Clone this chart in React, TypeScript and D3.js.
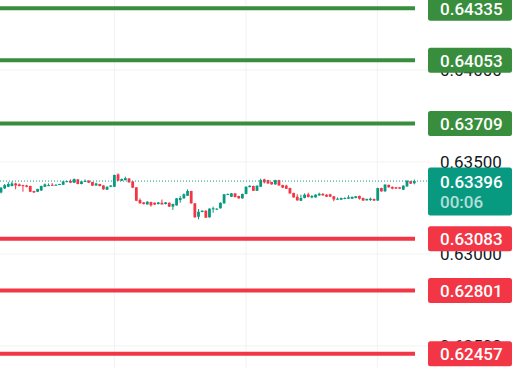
import React from "react";
import * as d3 from "d3";

const W = 515;
const H = 368;

const opens = [
  0.63334, 0.63356, 0.63365, 0.63369, 0.63383, 0.63378, 0.63374, 0.63372, 0.63369, 0.63342,
  0.63338, 0.63345, 0.63365, 0.63371, 0.63376, 0.63372, 0.63376, 0.63376, 0.63391, 0.63396,
  0.63387, 0.63405, 0.6338, 0.63392, 0.63398, 0.63391, 0.63372, 0.6338, 0.63372, 0.63349,
  0.63365, 0.63365, 0.63432, 0.63398, 0.63401, 0.6341, 0.63394, 0.63362, 0.63293, 0.6328,
  0.63269, 0.63282, 0.63278, 0.63271, 0.63278, 0.63271, 0.63278, 0.63257, 0.63264, 0.63293,
  0.63302, 0.63316, 0.63342, 0.63275, 0.63202, 0.63228, 0.63235, 0.63199, 0.63244, 0.63242,
  0.63248, 0.63275, 0.63322, 0.63311, 0.63329, 0.63315, 0.63302, 0.63326, 0.63363, 0.63369,
  0.63343, 0.63365, 0.63405, 0.63401, 0.63391, 0.63378, 0.63401, 0.63374, 0.63371, 0.63358,
  0.63331, 0.63311, 0.63289, 0.63304, 0.63324, 0.63307, 0.63307, 0.63318, 0.63327, 0.63322,
  0.63324, 0.63313, 0.63296, 0.63295, 0.63299, 0.633, 0.633, 0.63304, 0.63315, 0.63304,
  0.63291, 0.63293, 0.63299, 0.6329, 0.63358, 0.6334, 0.63375, 0.63364, 0.63362, 0.63362,
  0.63349, 0.63367, 0.63395, 0.63384,
];
const highs = [
  0.63363, 0.6338, 0.63391, 0.63394, 0.63387, 0.63383, 0.63376, 0.63376, 0.63371, 0.63343,
  0.63354, 0.63371, 0.63383, 0.63383, 0.63385, 0.63378, 0.63381, 0.63396, 0.63398, 0.63405,
  0.6341, 0.63407, 0.63396, 0.63405, 0.63401, 0.63392, 0.63387, 0.63381, 0.63374, 0.63367,
  0.63374, 0.63431, 0.63438, 0.6341, 0.6342, 0.63412, 0.63396, 0.63363, 0.63302, 0.63282,
  0.63286, 0.63284, 0.6328, 0.63282, 0.63296, 0.63282, 0.6328, 0.63273, 0.63304, 0.63315,
  0.63329, 0.63351, 0.63343, 0.63276, 0.63244, 0.63237, 0.63237, 0.63248, 0.63257, 0.63248,
  0.6328, 0.63326, 0.63328, 0.63331, 0.63331, 0.63316, 0.63328, 0.63367, 0.63372, 0.63371,
  0.63372, 0.63409, 0.63409, 0.63403, 0.63392, 0.63403, 0.63403, 0.63376, 0.63376, 0.6336,
  0.63333, 0.63325, 0.63322, 0.63329, 0.63333, 0.6332, 0.63324, 0.63333, 0.63329, 0.63324,
  0.63327, 0.63315, 0.63307, 0.63306, 0.63308, 0.63319, 0.63312, 0.63315, 0.63317, 0.63306,
  0.633, 0.63306, 0.633, 0.6336, 0.6336, 0.63378, 0.63377, 0.63367, 0.63364, 0.63364,
  0.63373, 0.634, 0.63397, 0.63404,
];
const lows = [
  0.63329, 0.63353, 0.63363, 0.63367, 0.63351, 0.63367, 0.63338, 0.63362, 0.63336, 0.63331,
  0.63336, 0.63342, 0.63363, 0.63369, 0.63369, 0.63371, 0.63374, 0.63374, 0.63389, 0.63385,
  0.63385, 0.63378, 0.63378, 0.63391, 0.63385, 0.63369, 0.63371, 0.63367, 0.63349, 0.63347,
  0.63363, 0.63363, 0.63396, 0.63396, 0.634, 0.63387, 0.63358, 0.63287, 0.63273, 0.63269,
  0.63268, 0.63257, 0.63266, 0.63269, 0.63268, 0.63269, 0.63255, 0.63239, 0.63262, 0.63278,
  0.633, 0.63315, 0.63273, 0.63197, 0.63188, 0.63226, 0.63195, 0.63197, 0.63224, 0.6324,
  0.63246, 0.63273, 0.6332, 0.63309, 0.63307, 0.633, 0.633, 0.63324, 0.63362, 0.63342,
  0.63342, 0.63363, 0.63383, 0.63381, 0.63376, 0.63376, 0.63371, 0.63358, 0.63353, 0.63327,
  0.63306, 0.63289, 0.63287, 0.63302, 0.63307, 0.63302, 0.63306, 0.63316, 0.63316, 0.63309,
  0.63309, 0.63286, 0.63295, 0.63293, 0.63297, 0.63299, 0.63299, 0.63302, 0.63295, 0.63288,
  0.6329, 0.63288, 0.63288, 0.63288, 0.63338, 0.63338, 0.6336, 0.63351, 0.63353, 0.63353,
  0.63347, 0.63365, 0.6338, 0.63378,
];
const closes = [
  0.6336, 0.63374, 0.6338, 0.63383, 0.63372, 0.63369, 0.63369, 0.63365, 0.63338, 0.63334,
  0.63353, 0.63369, 0.63378, 0.63374, 0.63371, 0.63376, 0.6338, 0.63394, 0.63396, 0.63387,
  0.63407, 0.6338, 0.63394, 0.63396, 0.63387, 0.63371, 0.63383, 0.63369, 0.63351, 0.63365,
  0.63372, 0.63429, 0.63398, 0.63407, 0.63412, 0.63389, 0.6336, 0.63289, 0.63275, 0.63271,
  0.63284, 0.63264, 0.63268, 0.6328, 0.63269, 0.6328, 0.63257, 0.63271, 0.63302, 0.63304,
  0.63324, 0.63342, 0.63275, 0.63199, 0.63229, 0.63235, 0.63197, 0.63246, 0.63248, 0.63246,
  0.63278, 0.63324, 0.63326, 0.63329, 0.63309, 0.63302, 0.63326, 0.63365, 0.63371, 0.63343,
  0.63371, 0.63401, 0.63389, 0.63383, 0.63378, 0.63401, 0.63372, 0.6336, 0.63354, 0.63329,
  0.63307, 0.63291, 0.63304, 0.63322, 0.63309, 0.63315, 0.63322, 0.63327, 0.63318, 0.63311,
  0.63311, 0.63296, 0.633, 0.63304, 0.63304, 0.63308, 0.6331, 0.63313, 0.633, 0.6329,
  0.63299, 0.633, 0.6329, 0.63358, 0.6334, 0.63377, 0.63362, 0.63355, 0.63355, 0.63355,
  0.63371, 0.63398, 0.63382, 0.63396,
];

const axisTicks = [0.64, 0.635, 0.63, 0.625];
const resistanceLevels = [0.64335, 0.64053, 0.63709];
const supportLevels = [0.63083, 0.62801, 0.62457];
const currentPrice = 0.63396;
const countdown = "00:06";
const timeGridIdx = [31.0, 67.0, 102.9];

const UP = "#089981";
const DOWN = "#f23645";
const RES = "#388e3c";
const GRID = "#f2f2f4";
const FONT = "Roboto, 'Noto Sans', sans-serif";

export default function App() {
  const y = d3.scaleLinear().domain([0.6238, 0.6438]).range([H, 0]);
  const x = d3.scaleLinear().domain([0, opens.length - 1]).range([1, 414.3]);
  const bodyW = 2.8;
  const fmt = d3.format(".5f");
  const lineEnd = 415;
  const boxX = 428;
  const boxW = 84;
  const boxH = 25;
  const textX = 440;

  const label = (p: number, color: string, key: string) => (
    <g key={key}>
      <rect x={boxX} y={y(p) - boxH / 2} width={boxW} height={boxH} rx={2.5} fill={color} />
      <text
        x={textX}
        y={y(p) + 0.5}
        dominantBaseline="central"
        fontFamily={FONT}
        fontSize={17}
        fontWeight={500}
        fill="#ffffff"
      >
        {fmt(p)}
      </text>
    </g>
  );

  return (
    <svg
      width={W}
      height={H}
      style={{ position: "fixed", left: 0, top: 0, background: "#ffffff" }}
    >
      <rect x={0} y={0} width={W} height={H} fill="#ffffff" />
      {axisTicks.map((t) => (
        <line key={"hg" + t} x1={0} x2={430} y1={y(t)} y2={y(t)} stroke={GRID} strokeWidth={1} />
      ))}
      {timeGridIdx.map((i) => (
        <line key={"vg" + i} x1={x(i)} x2={x(i)} y1={0} y2={H} stroke={GRID} strokeWidth={1} />
      ))}
      {axisTicks.map((t) => (
        <text
          key={"ax" + t}
          x={textX}
          y={y(t) + 0.5}
          dominantBaseline="central"
          fontFamily={FONT}
          fontSize={17}
          fill="#131722"
        >
          {fmt(t)}
        </text>
      ))}
      {opens.map((o, i) => {
        const c = closes[i];
        const col = c >= o ? UP : DOWN;
        const top = y(Math.max(o, c));
        const bot = y(Math.min(o, c));
        const cx = x(i);
        return (
          <g key={"c" + i}>
            <line x1={cx} x2={cx} y1={y(highs[i])} y2={y(lows[i])} stroke={col} strokeWidth={1} />
            <rect x={cx - bodyW / 2} y={top} width={bodyW} height={Math.max(1, bot - top)} fill={col} />
          </g>
        );
      })}
      <line
        x1={0}
        x2={428}
        y1={y(currentPrice)}
        y2={y(currentPrice)}
        stroke={UP}
        strokeWidth={1}
        strokeDasharray="1,2"
      />
      {resistanceLevels.map((p) => (
        <line key={"r" + p} x1={0} x2={lineEnd} y1={y(p)} y2={y(p)} stroke={RES} strokeWidth={4} />
      ))}
      {supportLevels.map((p) => (
        <line key={"s" + p} x1={0} x2={lineEnd} y1={y(p)} y2={y(p)} stroke={DOWN} strokeWidth={4} />
      ))}
      {resistanceLevels.map((p) => label(p, RES, "rl" + p))}
      {supportLevels.map((p) => label(p, DOWN, "sl" + p))}
      <g>
        <rect x={boxX} y={y(currentPrice) - 13.5} width={boxW} height={48} rx={2.5} fill={UP} />
        <text
          x={textX}
          y={y(currentPrice) + 0.5}
          dominantBaseline="central"
          fontFamily={FONT}
          fontSize={17}
          fontWeight={500}
          fill="#ffffff"
        >
          {fmt(currentPrice)}
        </text>
        <text
          x={textX}
          y={y(currentPrice) + 20.5}
          dominantBaseline="central"
          fontFamily={FONT}
          fontSize={17}
          fontWeight={500}
          fill="rgba(255,255,255,0.7)"
        >
          {countdown}
        </text>
      </g>
    </svg>
  );
}
